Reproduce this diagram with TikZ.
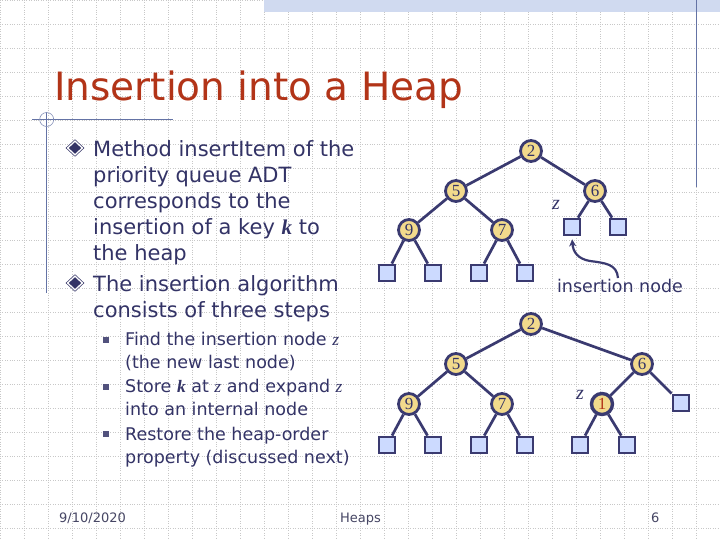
\documentclass[tikz,border=0pt]{standalone}
\usepackage{fontspec}
\setmainfont{DejaVu Sans}
\newfontfamily\tnr{Liberation Serif}
\usetikzlibrary{arrows.meta,shapes.geometric}
\definecolor{heapnavy}{RGB}{51,51,102}
\definecolor{heapline}{RGB}{58,58,112}
\definecolor{heaptitle}{RGB}{178,52,24}
\definecolor{keyfill}{RGB}{242,218,140}
\definecolor{leaffill}{RGB}{204,218,255}
\definecolor{gridgray}{RGB}{200,200,200}
\definecolor{rulecol}{RGB}{100,115,165}
\definecolor{bandfill}{RGB}{208,218,240}
\definecolor{footcol}{RGB}{70,70,100}
\newcommand{\kk}{{\tnr\bfseries\itshape k}}
\newcommand{\zz}{{\tnr\itshape z}}

\begin{document}
\begin{tikzpicture} [x=1pt,y=-1pt,{key/.style={circle,draw=heapline,fill=keyfill,line width=2.8pt,minimum size=21pt,inner sep=0pt,font=\tnr\fontsize{17}{17}\selectfont,text=heapnavy}},{leaf/.style={rectangle,draw=heapline,fill=leaffill,line width=2.8pt,minimum size=16pt,inner sep=0pt}},{edge/.style={draw=heapline,line width=2.7pt}},{zlab/.style={font=\tnr\itshape\fontsize{20}{20}\selectfont,text=heapnavy}},{gridline/.style={color=gridgray,line width=0.8pt,dash pattern=on 1pt off 1.4pt}},{bodytext/.style={anchor=north west,align=left,inner sep=0pt,text=heapnavy,font=\fontsize{21}{26}\selectfont}},{subtext/.style={anchor=north west,align=left,inner sep=0pt,text=heapnavy,font=\fontsize{17.5}{23}\selectfont}},{dbul/.style={diamond,draw=heapnavy,fill=heapnavy,double=white,double distance=1.3pt,line width=0.7pt,minimum width=15pt,minimum height=14pt,inner sep=0pt}},{sbul/.style={rectangle,fill=heapnavy!85,minimum size=5.5pt,inner sep=0pt}},{foot/.style={anchor=base west,inner sep=0pt,text=footcol,font=\fontsize{13}{14}\selectfont}}]
	\useasboundingbox (0,0) rectangle (720,540);
	%%background grid
	\fill [white] (0,0) rectangle (720,540);
	\foreach \gx in {0,24,...,720} \draw [gridline] (\gx,0) -- (\gx,540);
	\foreach \gy in {0,24,...,540} \draw [gridline] (0,\gy) -- (720,\gy);
	\fill [bandfill] (264,0) rectangle (720,12.5);
	%%rules
	\draw [rulecol,line width=1.3pt] (696.5,0) -- (696.5,187);
	\draw [rulecol,line width=1.1pt] (32,119.5) -- (173,119.5);
	\draw [rulecol,line width=1.1pt] (46.7,112) -- (46.7,293);
	\draw [rulecol!80,line width=0.6pt] (46.7,119.5) circle (7);

	%%title
	\node [anchor=base west,inner sep=0pt,text=heaptitle,font=\fontsize{39}{40}\selectfont] (title) at (54,101) {Insertion into a Heap};

	%%bullets
	\node [dbul] (b1) at (75,148) {};
	\node [bodytext] (p1) at (93,140) {Method insertItem of the\\priority queue ADT\\corresponds to the\\insertion of a key \kk{} to\\the heap};
	\node [dbul] (b2) at (75,283) {};
	\node [bodytext] (p2) at (93,275) {The insertion algorithm\\consists of three steps};
	\node [sbul] (s1) at (106,340) {};
	\node [subtext] (q1) at (125,332) {Find the insertion node \zz\\(the new last node)};
	\node [sbul] (s2) at (106,387) {};
	\node [subtext] (q2) at (125,379) {Store \kk{} at \zz{} and expand \zz\\into an internal node};
	\node [sbul] (s3) at (106,434) {};
	\node [subtext] (q3) at (125,427) {Restore the heap-order\\property (discussed next)};

	%%heap before
	\node [key] (ta2) at (531,151) {2};
	\node [key] (ta5) at (456,191) {5};
	\node [key] (ta6) at (595,191) {6};
	\node [key] (ta9) at (409,230) {9};
	\node [key] (ta7) at (502,230) {7};
	\node [leaf] (taz) at (572,227) {};
	\node [leaf] (tar) at (618,227) {};
	\node [leaf] (ta9l) at (387,273) {};
	\node [leaf] (ta9r) at (433,273) {};
	\node [leaf] (ta7l) at (479,273) {};
	\node [leaf] (ta7r) at (525,273) {};
	\draw [edge] (ta2) -- (ta5);
	\draw [edge] (ta2) -- (ta6);
	\draw [edge] (ta5) -- (ta9);
	\draw [edge] (ta5) -- (ta7);
	\draw [edge] (ta9) -- (ta9l);
	\draw [edge] (ta9) -- (ta9r);
	\draw [edge] (ta7) -- (ta7l);
	\draw [edge] (ta7) -- (ta7r);
	\draw [edge] (ta6) -- (taz);
	\draw [edge] (ta6) -- (tar);
	\node [zlab] (zla) at (556,205) {z};
	\node [text=heapnavy,font=\fontsize{17.5}{20}\selectfont,inner sep=1pt] (insn) at (620,286) {insertion node};
	\draw [heapline,line width=2.2pt,-{Stealth[length=7pt,width=7pt]},shorten >=3pt] ([xshift=-2pt]insn.north) .. controls (617,264) and (605,263) .. (590,261) .. controls (578,259) and (573,252) .. (taz.south);

	%%heap after
	\node [key] (tb2) at (531,324) {2};
	\node [key] (tb5) at (456,364) {5};
	\node [key] (tb6) at (642,364) {6};
	\node [key] (tb9) at (409,404) {9};
	\node [key] (tb7) at (502,404) {7};
	\node [key,line width=3.4pt,text=heaptitle] (tb1) at (602,404) {1};
	\node [leaf] (tbr) at (681,403) {};
	\node [leaf] (tb9l) at (387,445) {};
	\node [leaf] (tb9r) at (433,445) {};
	\node [leaf] (tb7l) at (479,445) {};
	\node [leaf] (tb7r) at (525,445) {};
	\node [leaf] (tb1l) at (580,445) {};
	\node [leaf] (tb1r) at (627,445) {};
	\draw [edge] (tb2) -- (tb5);
	\draw [edge] (tb2) -- (tb6);
	\draw [edge] (tb5) -- (tb9);
	\draw [edge] (tb5) -- (tb7);
	\draw [edge] (tb9) -- (tb9l);
	\draw [edge] (tb9) -- (tb9r);
	\draw [edge] (tb7) -- (tb7l);
	\draw [edge] (tb7) -- (tb7r);
	\draw [edge] (tb6) -- (tb1);
	\draw [edge] (tb6) -- (tbr);
	\draw [edge] (tb1) -- (tb1l);
	\draw [edge] (tb1) -- (tb1r);
	\node [zlab] (zlb) at (580,395) {z};

	%%footer
	\node [foot] (date) at (59,522) {9/10/2020};
	\node [foot] (topic) at (340,522) {Heaps};
	\node [foot] (pnum) at (651,522) {6};
\end{tikzpicture}
\end{document}
